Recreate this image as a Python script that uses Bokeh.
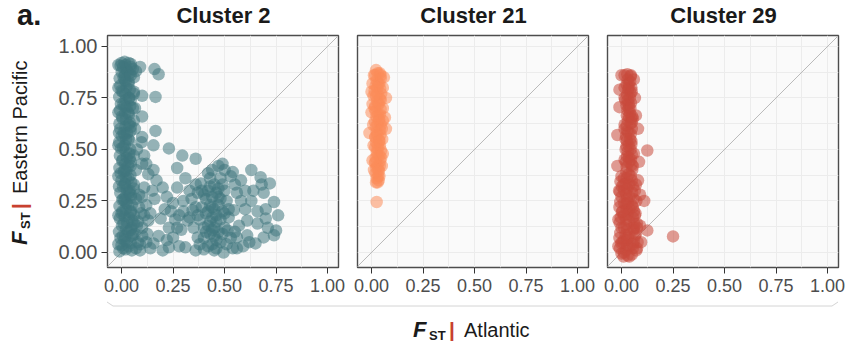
import numpy as np
from bokeh.plotting import figure
from bokeh.layouts import row, column
from bokeh.models import FixedTicker, NumeralTickFormatter, Slope, Range1d, Div
from bokeh.embed import file_html
from bokeh.resources import INLINE

# ---------------- data ----------------
panel_titles = ["Cluster 2", "Cluster 21", "Cluster 29"]
tick_values = [0.0, 0.25, 0.5, 0.75, 1.0]
minor_values = [0.125, 0.375, 0.625, 0.875]

# Cluster 2: dense column near Atlantic FST = 0
c2_col_x = [
    -0.010, 0.000, -0.005, -0.012, 0.002, -0.008, 0.000, -0.010, 0.004, -0.006,
    -0.012, 0.000, -0.004, -0.010, 0.003, -0.008, -0.002, -0.011, 0.001, -0.006,
    -0.010, 0.002, -0.007, -0.003, -0.011, 0.000, -0.006, -0.009, 0.001, -0.004, 0.000,
    0.020, 0.025, 0.018, 0.022, 0.028, 0.015, 0.020, 0.024, 0.019, 0.026,
    0.017, 0.021, 0.023, 0.018, 0.025, 0.020, 0.016, 0.022, 0.027, 0.019,
    0.021, 0.017, 0.024, 0.020, 0.018, 0.023, 0.020, 0.016, 0.022, 0.019,
    0.050, 0.045, 0.055, 0.048, 0.052, 0.044, 0.050, 0.046, 0.040, 0.047,
    0.043, 0.045, 0.040, 0.042, 0.038, 0.044, 0.040, 0.036, 0.042, 0.038,
    0.040, 0.035, 0.040, 0.045,
    0.070, 0.080, 0.065, 0.090, 0.075, 0.060, 0.085, 0.070, 0.060, 0.065, 0.060, 0.070,
    0.008, 0.035, 0.006, 0.033, 0.010, 0.037, 0.005, 0.032, 0.009, 0.036,
    0.007, 0.034, 0.011, 0.031, 0.006, 0.038, 0.008, 0.033, 0.010, 0.035,
    0.005, 0.032, 0.009, 0.036, 0.007, 0.034, 0.010, 0.030, 0.008, 0.035,
    0.090, 0.100, 0.080, 0.095, 0.085, 0.070, 0.075, 0.065, 0.060,
    -0.015, 0.015, 0.045, 0.060, -0.015, 0.015, 0.045, 0.060, -0.015, 0.015,
    0.045, 0.060, -0.015, 0.015, 0.045, 0.060, -0.015, 0.015, 0.045, 0.060,
    -0.015, 0.015, 0.045, 0.055, -0.015, 0.015, 0.045, 0.055, -0.012, 0.015,
    0.045, 0.050]
c2_col_y = [
    0.005, 0.035, 0.070, 0.100, 0.130, 0.165, 0.190, 0.225, 0.255, 0.290,
    0.320, 0.350, 0.385, 0.410, 0.445, 0.470, 0.505, 0.535, 0.565, 0.600,
    0.625, 0.660, 0.690, 0.720, 0.755, 0.785, 0.810, 0.845, 0.875, 0.905, 0.920,
    0.015, 0.050, 0.080, 0.115, 0.145, 0.175, 0.210, 0.240, 0.270, 0.305,
    0.335, 0.365, 0.395, 0.430, 0.460, 0.490, 0.520, 0.550, 0.580, 0.610,
    0.645, 0.675, 0.705, 0.740, 0.770, 0.800, 0.830, 0.860, 0.890, 0.910,
    0.010, 0.045, 0.085, 0.120, 0.155, 0.195, 0.230, 0.265, 0.300, 0.340,
    0.375, 0.420, 0.455, 0.500, 0.545, 0.590, 0.630, 0.670, 0.710, 0.750,
    0.790, 0.830, 0.870, 0.900,
    0.020, 0.050, 0.090, 0.010, 0.130, 0.180, 0.220, 0.260, 0.330, 0.600, 0.850, 0.880,
    0.020, 0.030, 0.080, 0.100, 0.140, 0.170, 0.200, 0.230, 0.260, 0.290,
    0.320, 0.360, 0.390, 0.420, 0.450, 0.480, 0.510, 0.550, 0.580, 0.620,
    0.650, 0.680, 0.720, 0.750, 0.780, 0.820, 0.850, 0.880, 0.900, 0.920,
    0.040, 0.080, 0.150, 0.190, 0.280, 0.400, 0.500, 0.700, 0.780,
    0.040, 0.060, 0.110, 0.140, 0.180, 0.250, 0.280, 0.310, 0.370, 0.400,
    0.440, 0.470, 0.520, 0.570, 0.610, 0.640, 0.680, 0.710, 0.740, 0.770,
    0.800, 0.840, 0.860, 0.890, 0.910, 0.925, 0.915, 0.700, 0.580, 0.330,
    0.200, 0.080]

# Cluster 2: scattered loci
c2_sc_x = [
    0.09, 0.16, 0.18, 0.10, 0.165, 0.10, 0.165, 0.10, 0.097, 0.155,
    0.23, 0.295, 0.36, 0.11, 0.155, 0.10, 0.27, 0.31, 0.42, 0.47,
    0.49, 0.54, 0.63, 0.675, 0.72, 0.64, 0.69, 0.74, 0.70, 0.76,
    0.70, 0.61, 0.545, 0.56, 0.58, 0.75, 0.74, 0.69, 0.65, 0.61,
    0.56, 0.56, 0.495, 0.515, 0.11, 0.10, 0.11, 0.13, 0.125, 0.155,
    0.20, 0.23, 0.19, 0.21, 0.22, 0.20, 0.27, 0.30, 0.25, 0.31,
    0.36, 0.37, 0.32, 0.345, 0.37, 0.385, 0.42, 0.44, 0.46, 0.48,
    0.43, 0.45, 0.47, 0.49, 0.41, 0.44, 0.46, 0.48, 0.42, 0.45,
    0.47, 0.43, 0.40, 0.46, 0.44, 0.48, 0.42, 0.50, 0.51, 0.39,
    0.40, 0.38, 0.52, 0.50, 0.45, 0.43, 0.40, 0.48, 0.53, 0.51,
    0.45, 0.38, 0.35, 0.34, 0.33, 0.36, 0.37, 0.26, 0.27, 0.24,
    0.29, 0.28, 0.22, 0.55, 0.58, 0.57, 0.60, 0.63, 0.66, 0.62,
    0.59, 0.55, 0.53, 0.50, 0.44, 0.12, 0.14, 0.10, 0.12, 0.15,
    0.13, 0.12, 0.44, 0.46, 0.42, 0.47, 0.45, 0.49, 0.41, 0.43,
    0.41, 0.43, 0.47, 0.49, 0.44, 0.46, 0.40, 0.50, 0.52, 0.39,
    0.36, 0.33, 0.30, 0.28, 0.25, 0.23, 0.18, 0.16, 0.14, 0.17,
    0.60, 0.66, 0.68, 0.71, 0.54]
c2_sc_y = [
    0.90, 0.89, 0.865, 0.76, 0.755, 0.66, 0.59, 0.56, 0.535, 0.52,
    0.505, 0.47, 0.455, 0.47, 0.40, 0.43, 0.41, 0.36, 0.385, 0.42,
    0.43, 0.39, 0.40, 0.365, 0.335, 0.30, 0.29, 0.245, 0.21, 0.18,
    0.165, 0.155, 0.205, 0.29, 0.35, 0.107, 0.083, 0.073, 0.044, 0.083,
    0.02, 0.073, 0.0, 0.107, 0.315, 0.27, 0.18, 0.155, 0.09, 0.044,
    0.01, 0.025, 0.165, 0.21, 0.27, 0.315, 0.315, 0.25, 0.073, 0.025,
    0.01, 0.073, 0.155, 0.205, 0.29, 0.335, 0.30, 0.27, 0.29, 0.26,
    0.23, 0.21, 0.23, 0.20, 0.19, 0.17, 0.15, 0.16, 0.13, 0.12,
    0.10, 0.09, 0.07, 0.06, 0.04, 0.05, 0.03, 0.12, 0.25, 0.22,
    0.12, 0.16, 0.17, 0.30, 0.33, 0.36, 0.28, 0.36, 0.07, 0.04,
    0.01, 0.04, 0.12, 0.26, 0.17, 0.22, 0.18, 0.16, 0.12, 0.20,
    0.11, 0.03, 0.06, 0.33, 0.25, 0.13, 0.21, 0.25, 0.14, 0.05,
    0.03, 0.10, 0.37, 0.40, 0.40, 0.05, 0.02, 0.12, 0.23, 0.30,
    0.38, 0.43, 0.22, 0.18, 0.20, 0.27, 0.08, 0.09, 0.10, 0.15,
    0.26, 0.32, 0.31, 0.33, 0.11, 0.02, 0.015, 0.19, 0.21, 0.30,
    0.33, 0.30, 0.20, 0.18, 0.24, 0.12, 0.08, 0.26, 0.19, 0.35,
    0.30, 0.20, 0.33, 0.12, 0.02]

# Cluster 21
c21_x = [
    0.022, 0.018, 0.025, 0.020, 0.015, 0.022, 0.028, 0.018, 0.020, 0.024,
    0.016, 0.021, 0.025, 0.019, 0.022, 0.018, 0.026, 0.020, 0.017, 0.023,
    0.020, 0.025, 0.022,
    0.040, 0.045, 0.038, 0.042, 0.047, 0.040, 0.036, 0.044, 0.041, 0.038,
    0.045, 0.040, 0.043, 0.037, 0.041, 0.046, 0.039, 0.042, 0.040, 0.036, 0.038,
    0.030, 0.032, 0.029, 0.031, 0.033, 0.030, 0.028, 0.031, 0.030, 0.029, 0.032, 0.035,
    0.005, 0.055, 0.005, 0.055, 0.008, 0.052, 0.010, 0.050, 0.012, 0.055,
    0.012, 0.028, 0.045, 0.015, 0.035, 0.050, 0.018, 0.030, 0.047, 0.020,
    0.033, 0.044, 0.010, 0.038,
    0.025, -0.010, 0.000, 0.070, 0.070, 0.065, 0.005, 0.055, 0.000, 0.060, 0.030]
c21_y = [
    0.885, 0.860, 0.835, 0.810, 0.785, 0.760, 0.735, 0.710, 0.685, 0.660,
    0.635, 0.610, 0.585, 0.560, 0.535, 0.510, 0.485, 0.460, 0.435, 0.410,
    0.385, 0.360, 0.340,
    0.870, 0.845, 0.820, 0.795, 0.770, 0.745, 0.720, 0.695, 0.670, 0.645,
    0.620, 0.595, 0.570, 0.545, 0.520, 0.495, 0.470, 0.445, 0.420, 0.395, 0.370,
    0.870, 0.820, 0.770, 0.720, 0.670, 0.620, 0.570, 0.520, 0.470, 0.420, 0.370, 0.350,
    0.820, 0.800, 0.720, 0.700, 0.620, 0.550, 0.520, 0.420, 0.400, 0.640,
    0.860, 0.800, 0.740, 0.700, 0.640, 0.600, 0.560, 0.500, 0.460, 0.440,
    0.400, 0.860, 0.760, 0.540,
    0.245, 0.580, 0.680, 0.600, 0.750, 0.655, 0.447, 0.480, 0.780, 0.850, 0.340]

# Cluster 29
c29_x = [
    0.028, 0.030, 0.025, 0.032, 0.027, 0.030, 0.024, 0.029, 0.026, 0.031,
    0.025, 0.028, 0.022, 0.027, 0.024, 0.030, 0.026, 0.021, 0.025, 0.023,
    0.045, 0.042, 0.048, 0.044, 0.040, 0.046, 0.043, 0.041, 0.047, 0.044,
    0.050, 0.045, 0.042, 0.048, 0.044, 0.050, 0.046, 0.049, 0.052,
    0.000, -0.005, 0.002, -0.008, 0.000, -0.006, -0.010, 0.002, -0.004, -0.009,
    0.000, -0.006, -0.010, -0.002, -0.008, 0.000, 0.010,
    0.025, 0.020, 0.028, 0.022, 0.026, 0.020, 0.024, 0.030, 0.021, 0.025,
    0.028, 0.020, 0.024, 0.027, 0.022, 0.030,
    0.050, 0.055, 0.052, 0.058, 0.050, 0.060, 0.055, 0.062, 0.058, 0.065,
    0.060, 0.055, 0.050,
    0.072, 0.068, 0.075, 0.070, 0.078, 0.072,
    0.012, 0.038, 0.012, 0.038, 0.012, 0.038, 0.012, 0.038, 0.012, 0.038,
    0.012, 0.038, 0.012, 0.038, 0.065, 0.070, 0.060, 0.035, 0.035, 0.035,
    0.035, 0.015, 0.015, 0.015, 0.060, 0.055,
    0.015, 0.035, 0.050, 0.018, 0.036, 0.052, 0.015, 0.034, 0.048, 0.020,
    0.036, 0.055, 0.015, 0.035, 0.050, 0.020, 0.037, 0.045,
    -0.015, 0.005, 0.030, 0.055, 0.075, -0.015, 0.005, 0.030, 0.055, 0.075,
    -0.012, 0.010, 0.045, 0.065,
    0.125, 0.250, 0.110, 0.125, 0.090, -0.010, -0.010, -0.020, -0.020, 0.085,
    0.080, 0.065, 0.070, 0.060, 0.000, 0.095, 0.090, 0.080]
c29_y = [
    0.865, 0.840, 0.815, 0.790, 0.765, 0.740, 0.715, 0.690, 0.665, 0.640,
    0.615, 0.590, 0.565, 0.540, 0.515, 0.490, 0.465, 0.440, 0.415, 0.390,
    0.855, 0.830, 0.800, 0.775, 0.750, 0.725, 0.700, 0.675, 0.650, 0.625,
    0.600, 0.575, 0.550, 0.525, 0.500, 0.475, 0.450, 0.425, 0.400,
    0.370, 0.345, 0.320, 0.295, 0.270, 0.245, 0.220, 0.195, 0.170, 0.145,
    0.120, 0.095, 0.070, 0.045, 0.020, -0.005, -0.020,
    0.360, 0.335, 0.310, 0.285, 0.260, 0.235, 0.210, 0.185, 0.160, 0.135,
    0.110, 0.085, 0.060, 0.035, 0.010, -0.015,
    0.350, 0.320, 0.290, 0.260, 0.230, 0.200, 0.170, 0.140, 0.110, 0.080,
    0.050, 0.020, -0.010,
    0.250, 0.190, 0.140, 0.090, 0.050, 0.010,
    0.360, 0.330, 0.300, 0.270, 0.240, 0.210, 0.180, 0.150, 0.120, 0.090,
    0.060, 0.030, 0.000, -0.020, 0.300, 0.330, 0.120, 0.380, 0.520, 0.660,
    0.800, 0.450, 0.600, 0.750, 0.480, 0.650,
    0.860, 0.820, 0.780, 0.740, 0.700, 0.660, 0.620, 0.580, 0.540, 0.500,
    0.460, 0.420, 0.800, 0.720, 0.630, 0.550, 0.440, 0.860,
    0.030, 0.050, 0.070, 0.040, 0.020, 0.160, 0.200, 0.240, 0.220, 0.120,
    0.300, 0.330, 0.370, 0.180,
    0.495, 0.078, 0.250, 0.107, 0.130, 0.790, 0.705, 0.570, 0.420, 0.440,
    0.600, 0.750, 0.665, 0.840, 0.860, 0.050, 0.280, 0.350]

colors = ["#40767E", "#FC8C5A", "#C84B3D"]

# ---------------- layout constants ----------------
FONT = "Liberation Sans"
INK = "#1a1a1a"
RED = "#C8402F"
TOTAL_W, TOTAL_H = 846, 349
TOP_STRIP = 33          # titles + panel letter
FRAME_W, FRAME_H = 231, 232
B_TOP, B_BOTTOM = 2, 33
ROW_H = B_TOP + FRAME_H + B_BOTTOM   # 267
LEFT_W = 50


def make_panel(xs, ys, color, b_left, b_right, show_y):
    w = b_left + FRAME_W + b_right
    p = figure(width=w, height=ROW_H, title=None, output_backend="svg", toolbar_location=None,
               x_range=Range1d(-0.068, 1.053), y_range=Range1d(-0.073, 1.053),
               min_border_left=b_left, min_border_right=b_right,
               min_border_top=B_TOP, min_border_bottom=B_BOTTOM)
    p.background_fill_color = "#fafafa"
    p.border_fill_color = "white"
    p.outline_line_color = "#4d4d4d"
    p.outline_line_width = 1.4

    tk = FixedTicker(ticks=tick_values, minor_ticks=minor_values)
    for ax in (p.xaxis, p.yaxis):
        ax.ticker = tk
        ax.formatter = NumeralTickFormatter(format="0.00")
        ax.axis_line_color = None
        ax.major_tick_line_color = "#333333"
        ax.major_tick_line_width = 1
        ax.major_tick_out = 6
        ax.major_tick_in = 0
        ax.minor_tick_line_color = None
        ax.major_label_text_font = FONT
        ax.major_label_text_color = "#4d4d4d"
    p.xaxis.major_label_text_font_size = "18px"
    p.xaxis.major_label_standoff = 5
    p.yaxis.major_label_text_font_size = "20px"
    p.yaxis.major_label_standoff = 4
    if not show_y:
        p.yaxis.visible = False

    for g in (p.xgrid, p.ygrid):
        g.ticker = tk
        g.grid_line_color = "#ececec"
        g.grid_line_width = 1
        g.minor_grid_line_color = "#ececec"
        g.minor_grid_line_width = 1

    p.add_layout(Slope(gradient=1, y_intercept=0, line_color="#bababa",
                       line_width=1, level="underlay"))
    p.scatter(xs, ys, size=12.5, fill_color=color, fill_alpha=0.55, line_color=None)
    return p


p1 = make_panel(c2_col_x + c2_sc_x, c2_col_y + c2_sc_y, colors[0], 107 - LEFT_W, 9, True)
p2 = make_panel(c21_x, c21_y, colors[1], 10, 9, False)
p3 = make_panel(c29_x, c29_y, colors[2], 10, 8, False)

# ---------------- top strip: panel letter + panel titles ----------------
title_centers = [223.5, 473.5, 723.5]
title_texts = "".join(
    f'<text x="{cx}" y="23" font-size="22" font-weight="bold" text-anchor="middle">{t}</text>'
    for cx, t in zip(title_centers, panel_titles))
top_svg = f"""
<svg xmlns="http://www.w3.org/2000/svg" width="{TOTAL_W}" height="{TOP_STRIP}" style="display:block"
     font-family="{FONT}" fill="{INK}">
  <text x="17" y="25" font-size="29" font-weight="bold">a.</text>
  {title_texts}
</svg>"""
top_div = Div(text=top_svg, width=TOTAL_W, height=TOP_STRIP, margin=0)

# ---------------- left strip: rotated y label ----------------
left_svg = f"""
<svg xmlns="http://www.w3.org/2000/svg" width="{LEFT_W}" height="{ROW_H}" style="display:block"
     font-family="{FONT}" fill="{INK}">
  <g transform="translate(27,{245 - TOP_STRIP}) rotate(-90)">
    <text x="0" y="0" font-size="22" font-weight="bold" font-style="italic">F</text>
    <text x="16" y="3" font-size="13" font-weight="bold">ST</text>
    <text x="39" y="0" font-size="21" font-weight="bold" fill="{RED}" text-anchor="middle">|</text>
    <text x="51" y="0" font-size="20">Eastern Pacific</text>
  </g>
</svg>"""
left_div = Div(text=left_svg, width=LEFT_W, height=ROW_H, margin=0)

# ---------------- bottom strip: bracket + x label ----------------
BOT_H = TOTAL_H - TOP_STRIP - ROW_H
bottom_svg = f"""
<svg xmlns="http://www.w3.org/2000/svg" width="{TOTAL_W}" height="{BOT_H}" style="display:block"
     font-family="{FONT}" fill="{INK}">
  <polyline points="107,2 113,6 832,6 838,2" fill="none" stroke="#d4d4d4" stroke-width="1"/>
  <text x="413" y="37" font-size="22" font-weight="bold" font-style="italic">F</text>
  <text x="429" y="40" font-size="13" font-weight="bold">ST</text>
  <text x="452" y="37" font-size="21" font-weight="bold" fill="{RED}" text-anchor="middle">|</text>
  <text x="464" y="37" font-size="20">Atlantic</text>
</svg>"""
bottom_div = Div(text=bottom_svg, width=TOTAL_W, height=BOT_H, margin=0)

layout = column(top_div, row(left_div, p1, p2, p3, spacing=0), bottom_div, spacing=0)

open("out.html", "w").write(file_html(layout, INLINE))
